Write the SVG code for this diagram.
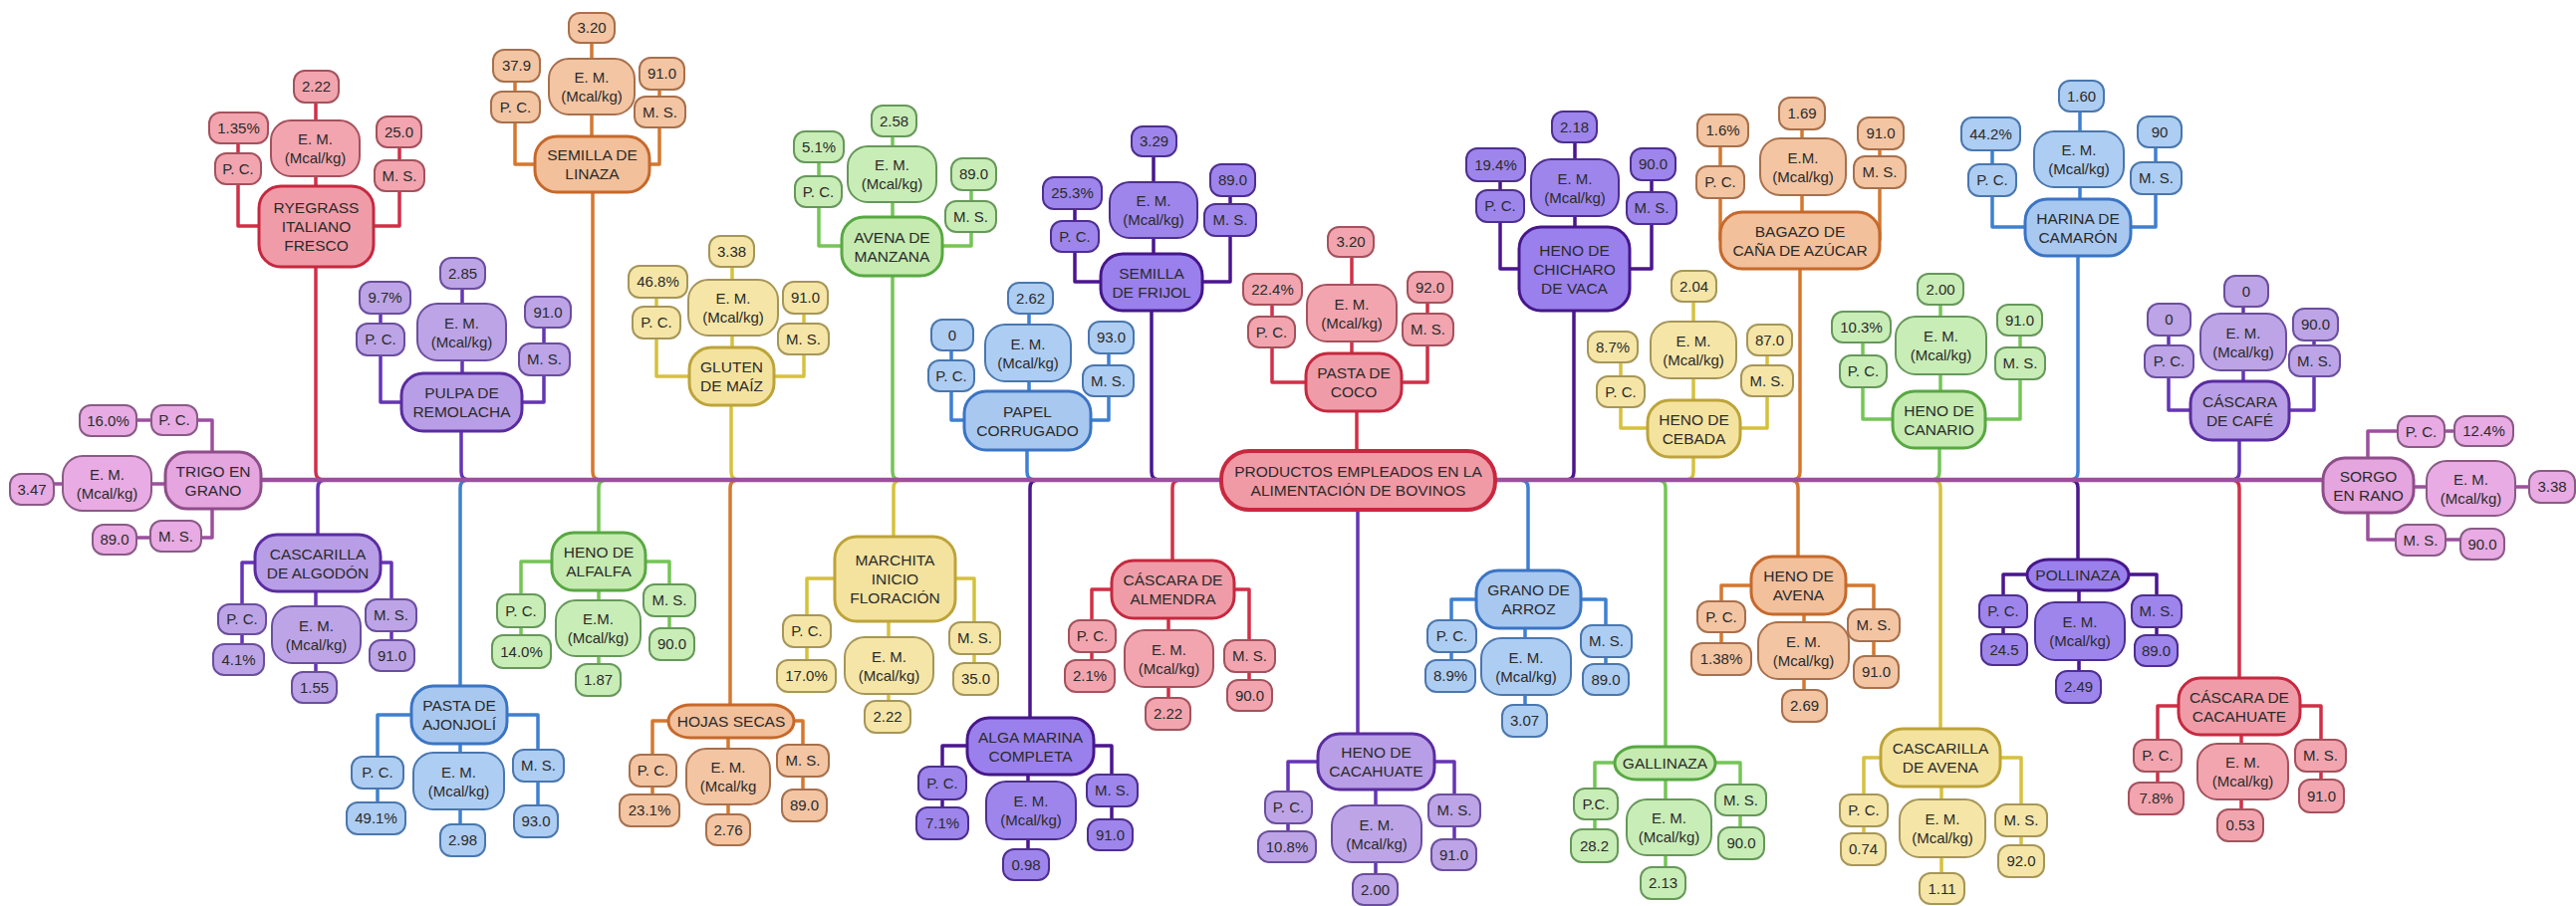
<svg xmlns="http://www.w3.org/2000/svg" width="2586" height="910" viewBox="0 0 2586 910">
<style>
text{font-family:"Liberation Sans",Arial,Helvetica,sans-serif;font-size:15px;fill:#2b2b2b;text-anchor:middle}
.t{font-size:15.5px}
.m{stroke-width:3;rx:22px;ry:22px}
.c{stroke-width:2;rx:11px;ry:11px}
.e{stroke-width:2;rx:20px;ry:20px}
.red .m{fill:#f09ca8;stroke:#c5293f}
.red .c,.red .e{fill:#f2a5af;stroke:#a4525d}
.lav .m{fill:#b89ee6;stroke:#5a2ca0}
.lav .c,.lav .e{fill:#bca4e6;stroke:#6b4e9e}
.pur .m{fill:#9a80ec;stroke:#46168a}
.pur .c,.pur .e{fill:#9d85ec;stroke:#4e2e8e}
.ora .m{fill:#f2c09b;stroke:#c6692b}
.ora .c,.ora .e{fill:#f3c5a3;stroke:#a8704c}
.yel .m{fill:#f4e39f;stroke:#bda43a}
.yel .c,.yel .e{fill:#f5e6a7;stroke:#a69658}
.gre .m{fill:#c5ebb1;stroke:#58a842}
.gre .c,.gre .e{fill:#c9edb7;stroke:#66985a}
.blu .m{fill:#a8c8f0;stroke:#3a74c4}
.blu .c,.blu .e{fill:#aecdf2;stroke:#4a77ae}
.mag .m{fill:#e5a5df;stroke:#8e4e89}
.mag .c,.mag .e{fill:#e8abe3;stroke:#8a5a86}
#connectors path{fill:none;stroke-width:3.5;stroke-linejoin:round}
.lr{stroke:#d22f47}.ll{stroke:#6535b5}.lp{stroke:#4b168f}.lo{stroke:#d4782f}.ly{stroke:#d6c13d}.lg{stroke:#74c556}.lb{stroke:#3e80d2}.lm{stroke:#9c4f9f}
</style>
<rect width="2586" height="910" fill="#ffffff"/>
<g id="connectors">
<path class="lr" d="M317,227V474Q317,482 325,482M239,128V227H317M401,132V227H317M317,87V227"/>
<path class="ll" d="M463,404V474Q463,482 471,482M382,299V404H463M546,313V404H463M464,274V404"/>
<path class="lo" d="M595,165V474Q595,482 603,482M517,66V165H594M662,74V165H594M594,28V165"/>
<path class="ly" d="M734,378V474Q734,482 742,482M659,283V378H734M807,299V378H734M735,252V378"/>
<path class="lg" d="M896,247V474Q896,482 904,482M822,147V247H896M975,175V247H896M896,121V247"/>
<path class="lb" d="M1031,422V474Q1031,482 1039,482M955,336V422H1031M1113,339V422H1031M1033,299V422"/>
<path class="lp" d="M1156,283V474Q1156,482 1164,482M1079,194V283H1156M1235,181V283H1156M1158,142V283"/>
<path class="lr" d="M1362,384V460M1277,290V384H1359M1433,288V384H1359M1357,243V384"/>
<path class="lp" d="M1580,270V474Q1580,482 1572,482M1506,165V270H1580M1658,165V270H1580M1581,127V270"/>
<path class="ly" d="M1700,430V474Q1700,482 1692,482M1627,348V430H1700M1774,341V430H1700M1700,287V430"/>
<path class="lo" d="M1807,241V474Q1807,482 1799,482M1727,131V241H1807M1887,134V241H1807M1809,114V241"/>
<path class="lg" d="M1947,421V474Q1947,482 1939,482M1870,328V421H1947M2028,321V421H1947M1948,290V421"/>
<path class="lb" d="M2086,228V474Q2086,482 2078,482M2000,134V228H2086M2164,132V228H2086M2088,96V228"/>
<path class="ll" d="M2248,412V474Q2248,482 2240,482M2177,321V412H2248M2323,326V412H2248M2252,292V412"/>
<path class="ll" d="M327,482Q319,482 319,490V565M319,565H243V662M319,565H393V658M317,565V690"/>
<path class="lb" d="M470,482Q462,482 462,490V718M462,718H379V822M462,718H540V825M462,718V844"/>
<path class="lg" d="M609,482Q601,482 601,490V564M601,564H523V654M601,564H672V647M601,564V683"/>
<path class="lo" d="M741,482Q733,482 733,490V724M733,724H655V814M733,724H806V809M731,724V833"/>
<path class="ly" d="M905,482Q897,482 897,490V581M898,581H810V679M898,581H978V682M892,581V720"/>
<path class="lp" d="M1042,482Q1034,482 1034,490V749M1034,749H946V827M1034,749H1116V838M1032,749V868"/>
<path class="lr" d="M1185,482Q1177,482 1177,490V592M1177,592H1096V679M1177,592H1254V698M1173,592V717"/>
<path class="ll" d="M1363,500V765M1381,765H1293V850M1381,765H1460V858M1381,765V893"/>
<path class="lb" d="M1526,482Q1534,482 1534,490V602M1534,602H1457V679M1534,602H1612V682M1531,602V724"/>
<path class="lg" d="M1664,482Q1672,482 1672,490V766M1672,766H1601V849M1672,766H1747V847M1672,766V887"/>
<path class="lo" d="M1797,482Q1805,482 1805,490V588M1805,588H1728V662M1805,588H1881V675M1811,588V709"/>
<path class="ly" d="M1940,482Q1948,482 1948,490V761M1948,761H1871V853M1948,761H2029V865M1949,761V892"/>
<path class="lp" d="M2078,482Q2086,482 2086,490V577M2086,577H2011V652M2086,577H2165V653M2087,577V690"/>
<path class="lr" d="M2240,482Q2248,482 2248,490V709M2248,709H2166V802M2248,709H2330V799M2250,709V829"/>
<path class="lm" d="M108,422H213V482M115,540H213V482M32,486H214"/>
<path class="lm" d="M2377,487V433H2493M2377,487V542H2492M2377,489H2562"/>
<path class="lm" style="stroke-width:4.5" d="M214,482H2377"/>
</g>

<g id="productos-empleados" class="red">
<rect x="1226" y="453" width="275" height="59" rx="28" fill="#f09aa6" stroke="#c8283f" stroke-width="4"/>
<text class="t" x="1363.5" y="478.5">PRODUCTOS EMPLEADOS EN LA<tspan x="1363.5" dy="19">ALIMENTACIÓN DE BOVINOS</tspan></text>
</g>

<g id="ryegrass-italiano-fresco" class="red">
<rect class="m" x="260" y="187" width="115" height="81"/>
<rect class="e" x="272" y="121" width="89" height="56"/>
<rect class="c" x="295" y="71" width="45" height="32"/>
<rect class="c" x="216" y="154" width="46" height="31"/>
<rect class="c" x="210" y="113" width="59" height="31"/>
<rect class="c" x="376" y="161" width="50" height="31"/>
<rect class="c" x="378" y="117" width="45" height="31"/>
<text class="t" x="317.5" y="214">RYEGRASS<tspan x="317.5" dy="19">ITALIANO</tspan><tspan x="317.5" dy="19">FRESCO</tspan></text>
<text x="316.5" y="145">E. M.<tspan x="316.5" dy="19">(Mcal/kg)</tspan></text>
<text x="317.5" y="92">2.22</text>
<text x="239" y="174.5">P. C.</text>
<text x="239.5" y="133.5">1.35%</text>
<text x="401" y="181.5">M. S.</text>
<text x="400.5" y="137.5">25.0</text>
</g>

<g id="pulpa-de-remolacha" class="lav">
<rect class="m" x="403" y="375" width="121" height="58"/>
<rect class="e" x="419" y="305" width="89" height="57"/>
<rect class="c" x="442" y="259" width="45" height="31"/>
<rect class="c" x="358" y="325" width="48" height="32"/>
<rect class="c" x="361" y="283" width="51" height="32"/>
<rect class="c" x="521" y="345" width="51" height="32"/>
<rect class="c" x="527" y="298" width="46" height="31"/>
<text class="t" x="463.5" y="400">PULPA DE<tspan x="463.5" dy="19">REMOLACHA</tspan></text>
<text x="463.5" y="329.5">E. M.<tspan x="463.5" dy="19">(Mcal/kg)</tspan></text>
<text x="464.5" y="279.5">2.85</text>
<text x="382" y="346">P. C.</text>
<text x="386.5" y="304">9.7%</text>
<text x="546.5" y="366">M. S.</text>
<text x="550" y="318.5">91.0</text>
</g>

<g id="semilla-de-linaza" class="ora">
<rect class="m" x="537" y="137" width="115" height="56"/>
<rect class="e" x="551" y="59" width="86" height="56"/>
<rect class="c" x="571" y="13" width="46" height="30"/>
<rect class="c" x="493" y="92" width="49" height="31"/>
<rect class="c" x="495" y="50" width="47" height="32"/>
<rect class="c" x="637" y="97" width="51" height="31"/>
<rect class="c" x="642" y="58" width="45" height="32"/>
<text class="t" x="594.5" y="161">SEMILLA DE<tspan x="594.5" dy="19">LINAZA</tspan></text>
<text x="594" y="83">E. M.<tspan x="594" dy="19">(Mcal/kg)</tspan></text>
<text x="594" y="33">3.20</text>
<text x="517.5" y="112.5">P. C.</text>
<text x="518.5" y="71">37.9</text>
<text x="662.5" y="117.5">M. S.</text>
<text x="664.5" y="79">91.0</text>
</g>

<g id="gluten-de-maiz" class="yel">
<rect class="m" x="692" y="349" width="85" height="58"/>
<rect class="e" x="691" y="281" width="90" height="56"/>
<rect class="c" x="712" y="237" width="45" height="31"/>
<rect class="c" x="635" y="308" width="48" height="32"/>
<rect class="c" x="631" y="267" width="59" height="32"/>
<rect class="c" x="781" y="325" width="51" height="31"/>
<rect class="c" x="786" y="283" width="45" height="32"/>
<text class="t" x="734.5" y="374">GLUTEN<tspan x="734.5" dy="19">DE MAÍZ</tspan></text>
<text x="736" y="305">E. M.<tspan x="736" dy="19">(Mcal/kg)</tspan></text>
<text x="734.5" y="257.5">3.38</text>
<text x="659" y="329">P. C.</text>
<text x="660.5" y="288">46.8%</text>
<text x="806.5" y="345.5">M. S.</text>
<text x="808.5" y="304">91.0</text>
</g>

<g id="avena-de-manzana" class="gre">
<rect class="m" x="845" y="218" width="101" height="59"/>
<rect class="e" x="851" y="147" width="89" height="56"/>
<rect class="c" x="875" y="106" width="45" height="31"/>
<rect class="c" x="798" y="177" width="47" height="31"/>
<rect class="c" x="797" y="132" width="50" height="31"/>
<rect class="c" x="949" y="202" width="51" height="31"/>
<rect class="c" x="955" y="159" width="45" height="32"/>
<text class="t" x="895.5" y="243.5">AVENA DE<tspan x="895.5" dy="19">MANZANA</tspan></text>
<text x="895.5" y="171">E. M.<tspan x="895.5" dy="19">(Mcal/kg)</tspan></text>
<text x="897.5" y="126.5">2.58</text>
<text x="821.5" y="197.5">P. C.</text>
<text x="822" y="152.5">5.1%</text>
<text x="974.5" y="222.5">M. S.</text>
<text x="977.5" y="180">89.0</text>
</g>

<g id="papel-corrugado" class="blu">
<rect class="m" x="968" y="393" width="127" height="59"/>
<rect class="e" x="989" y="326" width="86" height="57"/>
<rect class="c" x="1012" y="284" width="45" height="31"/>
<rect class="c" x="932" y="362" width="46" height="31"/>
<rect class="c" x="935" y="321" width="42" height="31"/>
<rect class="c" x="1087" y="367" width="51" height="31"/>
<rect class="c" x="1093" y="323" width="45" height="32"/>
<text class="t" x="1031.5" y="418.5">PAPEL<tspan x="1031.5" dy="19">CORRUGADO</tspan></text>
<text x="1032" y="350.5">E. M.<tspan x="1032" dy="19">(Mcal/kg)</tspan></text>
<text x="1034.5" y="304.5">2.62</text>
<text x="955" y="382.5">P. C.</text>
<text x="956" y="341.5">0</text>
<text x="1112.5" y="387.5">M. S.</text>
<text x="1115.5" y="344">93.0</text>
</g>

<g id="semilla-de-frijol" class="pur">
<rect class="m" x="1105" y="255" width="102" height="57"/>
<rect class="e" x="1114" y="183" width="88" height="56"/>
<rect class="c" x="1136" y="127" width="45" height="30"/>
<rect class="c" x="1055" y="222" width="48" height="31"/>
<rect class="c" x="1047" y="178" width="59" height="32"/>
<rect class="c" x="1209" y="205" width="52" height="32"/>
<rect class="c" x="1215" y="165" width="45" height="32"/>
<text class="t" x="1156" y="279.5">SEMILLA<tspan x="1156" dy="19">DE FRIJOL</tspan></text>
<text x="1158" y="207">E. M.<tspan x="1158" dy="19">(Mcal/kg)</tspan></text>
<text x="1158.5" y="147">3.29</text>
<text x="1079" y="242.5">P. C.</text>
<text x="1076.5" y="199">25.3%</text>
<text x="1235" y="226">M. S.</text>
<text x="1237.5" y="186">89.0</text>
</g>

<g id="pasta-de-coco" class="red">
<rect class="m" x="1311" y="355" width="96" height="58"/>
<rect class="e" x="1312" y="286" width="90" height="57"/>
<rect class="c" x="1333" y="228" width="46" height="30"/>
<rect class="c" x="1253" y="318" width="47" height="31"/>
<rect class="c" x="1248" y="275" width="59" height="31"/>
<rect class="c" x="1408" y="315" width="51" height="32"/>
<rect class="c" x="1413" y="273" width="45" height="31"/>
<text class="t" x="1359" y="380">PASTA DE<tspan x="1359" dy="19">COCO</tspan></text>
<text x="1357" y="310.5">E. M.<tspan x="1357" dy="19">(Mcal/kg)</tspan></text>
<text x="1356" y="248">3.20</text>
<text x="1276.5" y="338.5">P. C.</text>
<text x="1277.5" y="295.5">22.4%</text>
<text x="1433.5" y="336">M. S.</text>
<text x="1435.5" y="293.5">92.0</text>
</g>

<g id="heno-de-chicharo-de-vaca" class="pur">
<rect class="m" x="1525" y="228" width="111" height="84"/>
<rect class="e" x="1537" y="160" width="88" height="57"/>
<rect class="c" x="1558" y="112" width="45" height="31"/>
<rect class="c" x="1482" y="191" width="48" height="32"/>
<rect class="c" x="1472" y="149" width="59" height="33"/>
<rect class="c" x="1633" y="193" width="50" height="32"/>
<rect class="c" x="1637" y="149" width="45" height="32"/>
<text class="t" x="1580.5" y="256.5">HENO DE<tspan x="1580.5" dy="19">CHICHARO</tspan><tspan x="1580.5" dy="19">DE VACA</tspan></text>
<text x="1581" y="184.5">E. M.<tspan x="1581" dy="19">(Mcal/kg)</tspan></text>
<text x="1580.5" y="132.5">2.18</text>
<text x="1506" y="212">P. C.</text>
<text x="1501.5" y="170.5">19.4%</text>
<text x="1658" y="214">M. S.</text>
<text x="1659.5" y="170">90.0</text>
</g>

<g id="heno-de-cebada" class="yel">
<rect class="m" x="1654" y="402" width="93" height="57"/>
<rect class="e" x="1657" y="323" width="86" height="57"/>
<rect class="c" x="1678" y="272" width="45" height="31"/>
<rect class="c" x="1603" y="378" width="48" height="31"/>
<rect class="c" x="1594" y="333" width="50" height="31"/>
<rect class="c" x="1748" y="367" width="52" height="31"/>
<rect class="c" x="1754" y="326" width="45" height="31"/>
<text class="t" x="1700.5" y="426.5">HENO DE<tspan x="1700.5" dy="19">CEBADA</tspan></text>
<text x="1700" y="347.5">E. M.<tspan x="1700" dy="19">(Mcal/kg)</tspan></text>
<text x="1700.5" y="292.5">2.04</text>
<text x="1627" y="398.5">P. C.</text>
<text x="1619" y="353.5">8.7%</text>
<text x="1774" y="387.5">M. S.</text>
<text x="1776.5" y="346.5">87.0</text>
</g>

<g id="bagazo-de-cana-de-azucar" class="ora">
<rect class="m" x="1727" y="213" width="160" height="57"/>
<rect class="e" x="1767" y="139" width="86" height="57"/>
<rect class="c" x="1786" y="98" width="46" height="32"/>
<rect class="c" x="1703" y="167" width="48" height="32"/>
<rect class="c" x="1704" y="115" width="51" height="32"/>
<rect class="c" x="1861" y="157" width="52" height="32"/>
<rect class="c" x="1865" y="118" width="46" height="32"/>
<text class="t" x="1807" y="237.5">BAGAZO DE<tspan x="1807" dy="19">CAÑA DE AZÚCAR</tspan></text>
<text x="1810" y="163.5">E.M.<tspan x="1810" dy="19">(Mcal/kg)</tspan></text>
<text x="1809" y="119">1.69</text>
<text x="1727" y="188">P. C.</text>
<text x="1729.5" y="136">1.6%</text>
<text x="1887" y="178">M. S.</text>
<text x="1888" y="139">91.0</text>
</g>

<g id="heno-de-canario" class="gre">
<rect class="m" x="1900" y="393" width="93" height="57"/>
<rect class="e" x="1903" y="318" width="91" height="58"/>
<rect class="c" x="1925" y="275" width="46" height="31"/>
<rect class="c" x="1847" y="357" width="47" height="32"/>
<rect class="c" x="1839" y="313" width="59" height="31"/>
<rect class="c" x="2003" y="349" width="50" height="32"/>
<rect class="c" x="2005" y="306" width="45" height="31"/>
<text class="t" x="1946.5" y="417.5">HENO DE<tspan x="1946.5" dy="19">CANARIO</tspan></text>
<text x="1948.5" y="343">E. M.<tspan x="1948.5" dy="19">(Mcal/kg)</tspan></text>
<text x="1948" y="295.5">2.00</text>
<text x="1870.5" y="378">P. C.</text>
<text x="1868.5" y="333.5">10.3%</text>
<text x="2028" y="370">M. S.</text>
<text x="2027.5" y="326.5">91.0</text>
</g>

<g id="harina-de-camaron" class="blu">
<rect class="m" x="2033" y="200" width="106" height="57"/>
<rect class="e" x="2042" y="132" width="90" height="56"/>
<rect class="c" x="2067" y="81" width="45" height="31"/>
<rect class="c" x="1976" y="165" width="48" height="32"/>
<rect class="c" x="1969" y="118" width="59" height="33"/>
<rect class="c" x="2139" y="163" width="51" height="32"/>
<rect class="c" x="2146" y="117" width="44" height="31"/>
<text class="t" x="2086" y="224.5">HARINA DE<tspan x="2086" dy="19">CAMARÓN</tspan></text>
<text x="2087" y="156">E. M.<tspan x="2087" dy="19">(Mcal/kg)</tspan></text>
<text x="2089.5" y="101.5">1.60</text>
<text x="2000" y="186">P. C.</text>
<text x="1998.5" y="139.5">44.2%</text>
<text x="2164.5" y="184">M. S.</text>
<text x="2168" y="137.5">90</text>
</g>

<g id="cascara-de-cafe" class="lav">
<rect class="m" x="2199" y="383" width="99" height="59"/>
<rect class="e" x="2209" y="315" width="86" height="57"/>
<rect class="c" x="2233" y="277" width="44" height="31"/>
<rect class="c" x="2153" y="347" width="49" height="32"/>
<rect class="c" x="2156" y="305" width="43" height="32"/>
<rect class="c" x="2298" y="347" width="51" height="31"/>
<rect class="c" x="2302" y="310" width="45" height="32"/>
<text class="t" x="2248.5" y="408.5">CÁSCARA<tspan x="2248.5" dy="19">DE CAFÉ</tspan></text>
<text x="2252" y="339.5">E. M.<tspan x="2252" dy="19">(Mcal/kg)</tspan></text>
<text x="2255" y="297.5">0</text>
<text x="2177.5" y="368">P. C.</text>
<text x="2177.5" y="326">0</text>
<text x="2323.5" y="367.5">M. S.</text>
<text x="2324.5" y="331">90.0</text>
</g>

<g id="cascarilla-de-algodon" class="lav">
<rect class="m" x="256" y="537" width="126" height="57"/>
<rect class="e" x="273" y="609" width="89" height="57"/>
<rect class="c" x="293" y="675" width="45" height="31"/>
<rect class="c" x="219" y="607" width="48" height="30"/>
<rect class="c" x="214" y="647" width="51" height="31"/>
<rect class="c" x="367" y="602" width="51" height="32"/>
<rect class="c" x="371" y="643" width="45" height="31"/>
<text class="t" x="319" y="561.5">CASCARILLA<tspan x="319" dy="19">DE ALGODÓN</tspan></text>
<text x="317.5" y="633.5">E. M.<tspan x="317.5" dy="19">(Mcal/kg)</tspan></text>
<text x="315.5" y="695.5">1.55</text>
<text x="243" y="627">P. C.</text>
<text x="239.5" y="667.5">4.1%</text>
<text x="392.5" y="623">M. S.</text>
<text x="393.5" y="663.5">91.0</text>
</g>

<g id="pasta-de-ajonjoli" class="blu">
<rect class="m" x="413" y="689" width="96" height="58"/>
<rect class="e" x="415" y="756" width="91" height="57"/>
<rect class="c" x="442" y="828" width="45" height="32"/>
<rect class="c" x="353" y="760" width="52" height="32"/>
<rect class="c" x="348" y="806" width="59" height="32"/>
<rect class="c" x="515" y="753" width="51" height="32"/>
<rect class="c" x="516" y="809" width="44" height="32"/>
<text class="t" x="461" y="714">PASTA DE<tspan x="461" dy="19">AJONJOLÍ</tspan></text>
<text x="460.5" y="780.5">E. M.<tspan x="460.5" dy="19">(Mcal/kg)</tspan></text>
<text x="464.5" y="849">2.98</text>
<text x="379" y="781">P. C.</text>
<text x="377.5" y="827">49.1%</text>
<text x="540.5" y="774">M. S.</text>
<text x="538" y="830">93.0</text>
</g>

<g id="heno-de-alfalfa" class="gre">
<rect class="m" x="554" y="535" width="94" height="58"/>
<rect class="e" x="558" y="603" width="85" height="56"/>
<rect class="c" x="578" y="667" width="45" height="32"/>
<rect class="c" x="499" y="597" width="48" height="33"/>
<rect class="c" x="494" y="638" width="59" height="33"/>
<rect class="c" x="646" y="587" width="52" height="32"/>
<rect class="c" x="652" y="631" width="45" height="32"/>
<text class="t" x="601" y="560">HENO DE<tspan x="601" dy="19">ALFALFA</tspan></text>
<text x="600.5" y="627">E.M.<tspan x="600.5" dy="19">(Mcal/kg)</tspan></text>
<text x="600.5" y="688">1.87</text>
<text x="523" y="618.5">P. C.</text>
<text x="523.5" y="659.5">14.0%</text>
<text x="672" y="608">M. S.</text>
<text x="674.5" y="652">90.0</text>
</g>

<g id="hojas-secas" class="ora">
<rect class="m" x="671" y="708" width="126" height="33"/>
<rect class="e" x="689" y="752" width="84" height="56"/>
<rect class="c" x="709" y="818" width="44" height="31"/>
<rect class="c" x="632" y="758" width="47" height="32"/>
<rect class="c" x="622" y="798" width="60" height="32"/>
<rect class="c" x="780" y="748" width="52" height="32"/>
<rect class="c" x="785" y="793" width="45" height="32"/>
<text class="t" x="734" y="729.5">HOJAS SECAS</text>
<text x="731" y="776">E. M.<tspan x="731" dy="19">(Mcal/kg</tspan></text>
<text x="731" y="838.5">2.76</text>
<text x="655.5" y="779">P. C.</text>
<text x="652" y="819">23.1%</text>
<text x="806" y="769">M. S.</text>
<text x="807.5" y="814">89.0</text>
</g>

<g id="marchita-inicio-floracion" class="yel">
<rect class="m" x="838" y="539" width="121" height="85"/>
<rect class="e" x="848" y="640" width="89" height="57"/>
<rect class="c" x="868" y="704" width="46" height="32"/>
<rect class="c" x="786" y="618" width="48" height="32"/>
<rect class="c" x="780" y="663" width="59" height="32"/>
<rect class="c" x="953" y="625" width="51" height="32"/>
<rect class="c" x="957" y="666" width="45" height="32"/>
<text class="t" x="898.5" y="568">MARCHITA<tspan x="898.5" dy="19">INICIO</tspan><tspan x="898.5" dy="19">FLORACIÓN</tspan></text>
<text x="892.5" y="664.5">E. M.<tspan x="892.5" dy="19">(Mcal/kg)</tspan></text>
<text x="891" y="725">2.22</text>
<text x="810" y="639">P. C.</text>
<text x="809.5" y="684">17.0%</text>
<text x="978.5" y="646">M. S.</text>
<text x="979.5" y="687">35.0</text>
</g>

<g id="alga-marina-completa" class="pur">
<rect class="m" x="971" y="721" width="127" height="57"/>
<rect class="e" x="990" y="785" width="90" height="58"/>
<rect class="c" x="1007" y="853" width="46" height="31"/>
<rect class="c" x="922" y="770" width="48" height="33"/>
<rect class="c" x="920" y="811" width="52" height="32"/>
<rect class="c" x="1091" y="778" width="51" height="32"/>
<rect class="c" x="1092" y="823" width="45" height="31"/>
<text class="t" x="1034.5" y="745.5">ALGA MARINA<tspan x="1034.5" dy="19">COMPLETA</tspan></text>
<text x="1035" y="810">E. M.<tspan x="1035" dy="19">(Mcal/kg)</tspan></text>
<text x="1030" y="873.5">0.98</text>
<text x="946" y="791.5">P. C.</text>
<text x="946" y="832">7.1%</text>
<text x="1116.5" y="799">M. S.</text>
<text x="1114.5" y="843.5">91.0</text>
</g>

<g id="cascara-de-almendra" class="red">
<rect class="m" x="1116" y="563" width="123" height="58"/>
<rect class="e" x="1129" y="633" width="89" height="57"/>
<rect class="c" x="1150" y="701" width="45" height="32"/>
<rect class="c" x="1073" y="623" width="47" height="32"/>
<rect class="c" x="1069" y="663" width="50" height="32"/>
<rect class="c" x="1229" y="643" width="51" height="32"/>
<rect class="c" x="1232" y="683" width="45" height="31"/>
<text class="t" x="1177.5" y="588">CÁSCARA DE<tspan x="1177.5" dy="19">ALMENDRA</tspan></text>
<text x="1173.5" y="657.5">E. M.<tspan x="1173.5" dy="19">(Mcal/kg)</tspan></text>
<text x="1172.5" y="722">2.22</text>
<text x="1096.5" y="644">P. C.</text>
<text x="1094" y="684">2.1%</text>
<text x="1254.5" y="664">M. S.</text>
<text x="1254.5" y="703.5">90.0</text>
</g>

<g id="heno-de-cacahuate" class="lav">
<rect class="m" x="1323" y="737" width="117" height="56"/>
<rect class="e" x="1337" y="809" width="90" height="57"/>
<rect class="c" x="1358" y="878" width="45" height="31"/>
<rect class="c" x="1270" y="795" width="47" height="32"/>
<rect class="c" x="1263" y="835" width="58" height="31"/>
<rect class="c" x="1434" y="798" width="52" height="32"/>
<rect class="c" x="1437" y="843" width="45" height="31"/>
<text class="t" x="1381.5" y="761">HENO DE<tspan x="1381.5" dy="19">CACAHUATE</tspan></text>
<text x="1382" y="833.5">E. M.<tspan x="1382" dy="19">(Mcal/kg)</tspan></text>
<text x="1380.5" y="898.5">2.00</text>
<text x="1293.5" y="816">P. C.</text>
<text x="1292" y="855.5">10.8%</text>
<text x="1460" y="819">M. S.</text>
<text x="1459.5" y="863.5">91.0</text>
</g>

<g id="grano-de-arroz" class="blu">
<rect class="m" x="1482" y="573" width="105" height="58"/>
<rect class="e" x="1487" y="641" width="90" height="57"/>
<rect class="c" x="1508" y="708" width="45" height="32"/>
<rect class="c" x="1433" y="623" width="49" height="32"/>
<rect class="c" x="1431" y="663" width="50" height="32"/>
<rect class="c" x="1587" y="628" width="51" height="32"/>
<rect class="c" x="1589" y="667" width="46" height="31"/>
<text class="t" x="1534.5" y="598">GRANO DE<tspan x="1534.5" dy="19">ARROZ</tspan></text>
<text x="1532" y="665.5">E. M.<tspan x="1532" dy="19">(Mcal/kg)</tspan></text>
<text x="1530.5" y="729">3.07</text>
<text x="1457.5" y="644">P. C.</text>
<text x="1456" y="684">8.9%</text>
<text x="1612.5" y="649">M. S.</text>
<text x="1612" y="687.5">89.0</text>
</g>

<g id="gallinaza" class="gre">
<rect class="m" x="1621" y="750" width="101" height="33"/>
<rect class="e" x="1633" y="803" width="85" height="56"/>
<rect class="c" x="1647" y="871" width="45" height="32"/>
<rect class="c" x="1580" y="792" width="44" height="31"/>
<rect class="c" x="1577" y="833" width="47" height="33"/>
<rect class="c" x="1722" y="788" width="51" height="31"/>
<rect class="c" x="1725" y="831" width="46" height="32"/>
<text class="t" x="1671.5" y="771.5">GALLINAZA</text>
<text x="1675.5" y="827">E. M.<tspan x="1675.5" dy="19">(Mcal/kg)</tspan></text>
<text x="1669.5" y="892">2.13</text>
<text x="1602" y="812.5">P.C.</text>
<text x="1600.5" y="854.5">28.2</text>
<text x="1747.5" y="808.5">M. S.</text>
<text x="1748" y="852">90.0</text>
</g>

<g id="heno-de-avena" class="ora">
<rect class="m" x="1758" y="559" width="95" height="58"/>
<rect class="e" x="1765" y="625" width="91" height="57"/>
<rect class="c" x="1789" y="693" width="45" height="32"/>
<rect class="c" x="1704" y="604" width="48" height="31"/>
<rect class="c" x="1698" y="646" width="60" height="32"/>
<rect class="c" x="1855" y="612" width="52" height="32"/>
<rect class="c" x="1861" y="659" width="45" height="32"/>
<text class="t" x="1805.5" y="584">HENO DE<tspan x="1805.5" dy="19">AVENA</tspan></text>
<text x="1810.5" y="649.5">E. M.<tspan x="1810.5" dy="19">(Mcal/kg)</tspan></text>
<text x="1811.5" y="714">2.69</text>
<text x="1728" y="624.5">P. C.</text>
<text x="1728" y="667">1.38%</text>
<text x="1881" y="633">M. S.</text>
<text x="1883.5" y="680">91.0</text>
</g>

<g id="cascarilla-de-avena" class="yel">
<rect class="m" x="1888" y="732" width="120" height="58"/>
<rect class="e" x="1907" y="803" width="86" height="58"/>
<rect class="c" x="1927" y="877" width="45" height="31"/>
<rect class="c" x="1847" y="798" width="48" height="32"/>
<rect class="c" x="1848" y="837" width="45" height="32"/>
<rect class="c" x="2003" y="808" width="52" height="32"/>
<rect class="c" x="2006" y="849" width="46" height="32"/>
<text class="t" x="1948" y="757">CASCARILLA<tspan x="1948" dy="19">DE AVENA</tspan></text>
<text x="1950" y="828">E. M.<tspan x="1950" dy="19">(Mcal/kg)</tspan></text>
<text x="1949.5" y="897.5">1.11</text>
<text x="1871" y="819">P. C.</text>
<text x="1870.5" y="858">0.74</text>
<text x="2029" y="829">M. S.</text>
<text x="2029" y="870">92.0</text>
</g>

<g id="pollinaza" class="pur">
<rect class="m" x="2035" y="562" width="102" height="31"/>
<rect class="e" x="2043" y="605" width="90" height="58"/>
<rect class="c" x="2064" y="674" width="45" height="32"/>
<rect class="c" x="1987" y="598" width="48" height="32"/>
<rect class="c" x="1989" y="637" width="46" height="31"/>
<rect class="c" x="2140" y="598" width="50" height="32"/>
<rect class="c" x="2143" y="638" width="43" height="31"/>
<text class="t" x="2086" y="582.5">POLLINAZA</text>
<text x="2088" y="630">E. M.<tspan x="2088" dy="19">(Mcal/kg)</tspan></text>
<text x="2086.5" y="695">2.49</text>
<text x="2011" y="619">P. C.</text>
<text x="2012" y="657.5">24.5</text>
<text x="2165" y="619">M. S.</text>
<text x="2164.5" y="658.5">89.0</text>
</g>

<g id="cascara-de-cacahuate" class="red">
<rect class="m" x="2187" y="681" width="122" height="57"/>
<rect class="e" x="2206" y="747" width="91" height="56"/>
<rect class="c" x="2226" y="813" width="46" height="32"/>
<rect class="c" x="2142" y="743" width="48" height="32"/>
<rect class="c" x="2137" y="786" width="55" height="32"/>
<rect class="c" x="2304" y="743" width="51" height="32"/>
<rect class="c" x="2308" y="783" width="45" height="33"/>
<text class="t" x="2248" y="705.5">CÁSCARA DE<tspan x="2248" dy="19">CACAHUATE</tspan></text>
<text x="2251.5" y="771">E. M.<tspan x="2251.5" dy="19">(Mcal/kg)</tspan></text>
<text x="2249" y="834">0.53</text>
<text x="2166" y="764">P. C.</text>
<text x="2164.5" y="807">7.8%</text>
<text x="2329.5" y="764">M. S.</text>
<text x="2330.5" y="804.5">91.0</text>
</g>

<g id="trigo-en-grano" class="mag">
<rect class="m" x="166" y="454" width="96" height="57"/>
<rect class="e" x="63" y="458" width="89" height="55"/>
<rect class="c" x="10" y="476" width="44" height="31"/>
<rect class="c" x="152" y="407" width="46" height="30"/>
<rect class="c" x="80" y="407" width="57" height="31"/>
<rect class="c" x="151" y="523" width="51" height="31"/>
<rect class="c" x="93" y="527" width="44" height="30"/>
<text class="t" x="214" y="478.5">TRIGO EN<tspan x="214" dy="19">GRANO</tspan></text>
<text x="107.5" y="481.5">E. M.<tspan x="107.5" dy="19">(Mcal/kg)</tspan></text>
<text x="32" y="496.5">3.47</text>
<text x="175" y="427">P. C.</text>
<text x="108.5" y="427.5">16.0%</text>
<text x="176.5" y="543.5">M. S.</text>
<text x="115" y="547">89.0</text>
</g>

<g id="sorgo-en-rano" class="mag">
<rect class="m" x="2332" y="460" width="91" height="55"/>
<rect class="e" x="2436" y="463" width="89" height="55"/>
<rect class="c" x="2539" y="473" width="46" height="32"/>
<rect class="c" x="2407" y="418" width="47" height="31"/>
<rect class="c" x="2464" y="418" width="59" height="30"/>
<rect class="c" x="2405" y="527" width="50" height="31"/>
<rect class="c" x="2470" y="531" width="44" height="31"/>
<text class="t" x="2377.5" y="483.5">SORGO<tspan x="2377.5" dy="19">EN RANO</tspan></text>
<text x="2480.5" y="486.5">E. M.<tspan x="2480.5" dy="19">(Mcal/kg)</tspan></text>
<text x="2562" y="494">3.38</text>
<text x="2430.5" y="438.5">P. C.</text>
<text x="2493.5" y="438">12.4%</text>
<text x="2430" y="547.5">M. S.</text>
<text x="2492" y="551.5">90.0</text>
</g>
</svg>
